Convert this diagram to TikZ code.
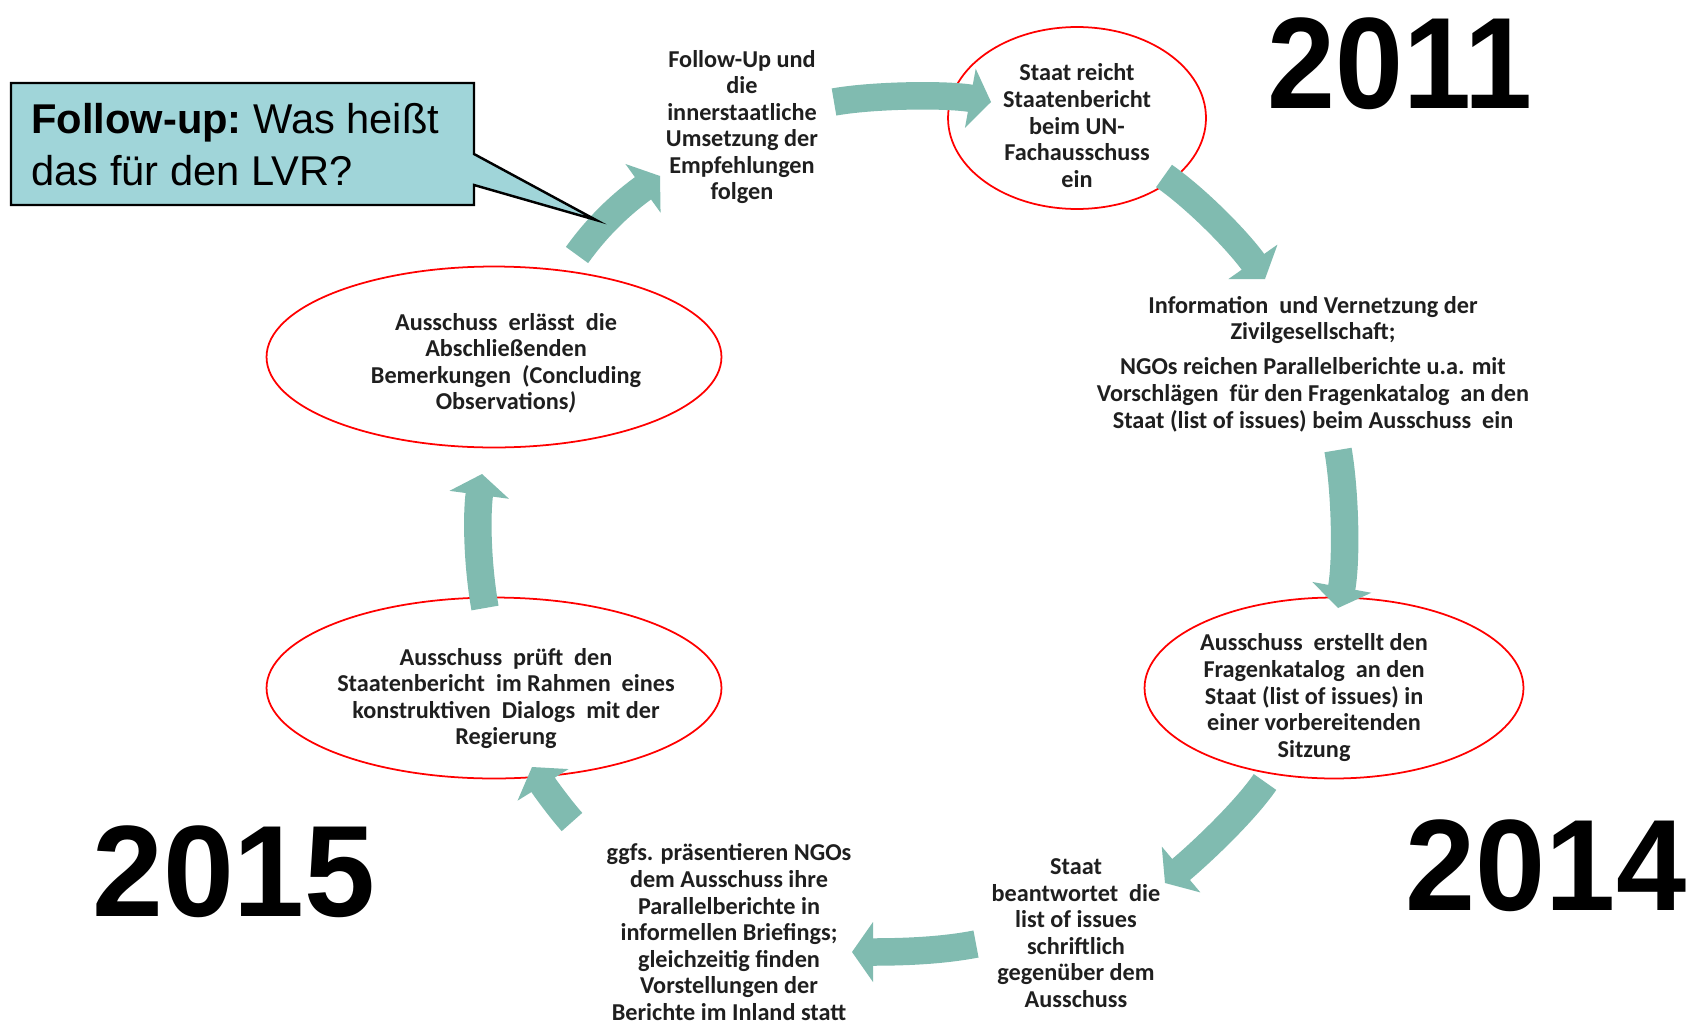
\documentclass[tikz,border=0pt]{standalone}
\usepackage{fontspec}
\setmainfont{Carlito}
\newfontfamily\arialfont{Liberation Sans}
\usetikzlibrary{calc,shapes.geometric}
\definecolor{bandc}{RGB}{128,187,176}
\definecolor{callc}{RGB}{160,213,217}
\tikzset{
  lbl/.style={align=center, inner sep=0pt, text=black!88,
    font=\bfseries\fontsize{13.8}{15.1}\selectfont,
    execute at begin node=\strut, execute at end node=\strut},
  oval/.style={ellipse, draw=red, line width=1pt, inner sep=0pt},
  band/.style={draw=bandc, line width=0.55cm, shorten >=0.38cm},
  yearlbl/.style={font=\arialfont\bfseries\fontsize{74}{80}\selectfont, anchor=base, inner sep=0pt},
}
\newcommand\cyclearrow[4]{%
  \draw[band] (#1) .. controls +(#2) and +(#3) .. (#4);
  \path ($(#4)+(#3)$) coordinate (hc) ($(#4)!0.42cm!(hc)$) coordinate (hb);
  \fill[bandc] (#4) -- ($(hb)!0.6cm!90:(#4)$) -- ($(hb)!0.6cm!-90:(#4)$) -- cycle;
}
\begin{document}
\begin{tikzpicture}[x=0.02cm, y=-0.02cm]
\fill[white] (0,0) rectangle (1689,1021);
\useasboundingbox (0,0) rectangle (1689,1021);

% ellipses
\node[oval, minimum width=5.16cm, minimum height=3.64cm] (o1) at (1077,118) {};
\node[oval, minimum width=7.58cm, minimum height=3.62cm] (o2) at (1334,688) {};
\node[oval, minimum width=9.10cm, minimum height=3.62cm] (o3) at (494,688) {};
\node[oval, minimum width=9.10cm, minimum height=3.62cm] (o4) at (494,357) {};

% texts
\node[lbl] (fu) at (742,129) {Follow-Up und\\die\\innerstaatliche\\Umsetzung der\\Empfehlungen\\folgen};
\node[lbl] (sr) at (1077,129.5) {Staat reicht\\Staatenbericht\\beim UN-\\Fachausschuss\\ein};
\node[lbl] (inf) at (1313,366) {Information\ \ und Vernetzung der\\Zivilgesellschaft;\\[5pt]NGOs reichen Parallelberichte u.a. mit\\Vorschlägen\ \ für den Fragenkatalog\ \ an den\\Staat (list of issues) beim Ausschuss\ \ ein};
\node[lbl] (ae) at (1314,699.5) {Ausschuss\ \ erstellt den\\Fragenkatalog\ \ an den\\Staat (list of issues) in\\einer vorbereitenden\\Sitzung};
\node[lbl] (sb) at (1076,937) {Staat\\beantwortet\ \ die\\list of issues\\schriftlich\\gegenüber dem\\Ausschuss};
\node[lbl] (gg) at (729,936) {ggfs. präsentieren NGOs\\dem Ausschuss ihre\\Parallelberichte in\\informellen Briefings;\\gleichzeitig finden\\Vorstellungen der\\Berichte im Inland statt};
\node[lbl] (ap) at (506,700.5) {Ausschuss\ \ prüft\ \ den\\Staatenbericht\ \ im Rahmen\ \ eines\\konstruktiven\ \ Dialogs\ \ mit der\\Regierung};
\node[lbl] (al) at (506,365.5) {Ausschuss\ \ erlässt\ \ die\\Abschließenden\\Bemerkungen\ \ (Concluding\\Observations\textit{)}};

% years
\node[yearlbl] (y2011) at (1400,108) {\scalebox{0.94}[1]{2011}};
\node[yearlbl] (y2014) at (1546,910) {\scalebox{0.97}[1]{2014}};
\node[yearlbl] (y2015) at (234,916) {\scalebox{0.98}[1]{2015}};

% arrow end points
\coordinate (a1s) at (834,102);  \coordinate (a1e) at (991,102);
\coordinate (a2s) at (1164,176); \coordinate (a2e) at (1265,279);
\coordinate (a3s) at (1338,450); \coordinate (a3e) at (1338,608);
\coordinate (a4s) at (1265,782); \coordinate (a4e) at (1165,883);
\coordinate (a5s) at (976,944);  \coordinate (a5e) at (852,952);
\coordinate (a6s) at (572,822);  \coordinate (a6e) at (532,767);
\coordinate (a7s) at (485,608);  \coordinate (a7e) at (482,474);
\coordinate (a8s) at (577,255);  \coordinate (a8e) at (660,176);

\cyclearrow{a1s}{39,-7}{-44,-8}{a1e}
\cyclearrow{a2s}{33,23}{-26,-37}{a2e}
\cyclearrow{a3s}{7,40}{9,-49}{a3e}
\cyclearrow{a4s}{-20,29}{38,-32}{a4e}
\cyclearrow{a5s}{-36,7}{48,0}{a5e}
\cyclearrow{a6s}{-10,-11}{13,21}{a6e}
\cyclearrow{a7s}{-7,-39}{-6,45}{a7e}
\cyclearrow{a8s}{23,-32}{-36,26}{a8e}

% callout
\coordinate (tipc) at (596,220);
\draw[fill=callc, line width=1.4pt, line join=miter] (11,83) -- (474,83) -- (474,154) -- (tipc) -- (474,185) -- (474,205) -- (11,205) -- cycle;
\node[anchor=north west, inner sep=0pt, align=left,
  font=\arialfont\fontsize{23.7}{29.5}\selectfont,
  execute at begin node=\strut] (co) at (31,103)
  {\textbf{Follow-up:}~Was heißt\\das für den LVR?};
\end{tikzpicture}
\end{document}
